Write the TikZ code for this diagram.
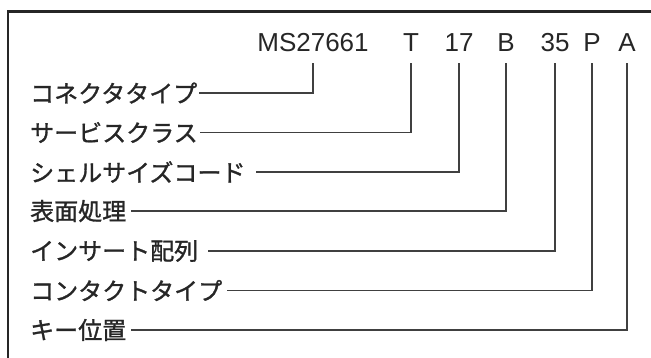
\documentclass[tikz,border=0pt]{standalone}
\usepackage{fontspec}
\setmainfont{Liberation Sans}
\newfontfamily\jpfont[FakeBold=1.2]{Noto Sans CJK JP}
\tikzset{
  code/.style={font=\fontsize{26}{30}\selectfont, anchor=base,
    inner xsep=0pt, inner ysep=11pt, text=black!85},
  caption/.style={font=\jpfont\fontsize{24}{28}\selectfont, anchor=west,
    inner sep=2pt, text=black!85},
  leader/.style={draw=black!75, line width=1.3pt},
}
\begin{document}
\begin{tikzpicture}[x=1pt,y=-1pt]
   \useasboundingbox (0,0) rectangle (651,358);
   \draw[black!85,line width=2.2pt] (8,358) |- (651,11.5);

   \node[code] (ms) at (313,52) {MS27661};
   \node[code] (t) at (411,52) {T};
   \node[code] (n17) at (459,52) {17};
   \node[code] (b) at (506,52) {B};
   \node[code] (n35) at (555,52) {35};
   \node[code] (p) at (592,52) {P};
   \node[code] (a) at (627,52) {A};

   \node[caption] (conn) at (28,93) {コネクタタイプ};
   \node[caption] (serv) at (28,132.5) {サービスクラス};
   \node[caption] (shell) at (28,172) {シェルサイズコード};
   \node[caption] (surf) at (28,211) {表面処理};
   \node[caption] (ins) at (28,251) {インサート配列};
   \node[caption] (cont) at (28,290.5) {コンタクトタイプ};
   \node[caption] (key) at (28,330) {キー位置};

   \draw[leader] (ms.south) |- (conn.east);
   \draw[leader] (t.south) |- (serv.east);
   \draw[leader] (n17.south) |- ([xshift=8pt]shell.east);
   \draw[leader] (b.south) |- ([xshift=3pt]surf.east);
   \draw[leader] (n35.south) |- ([xshift=8pt]ins.east);
   \draw[leader] (p.south) |- ([xshift=3pt]cont.east);
   \draw[leader] (a.south) |- ([xshift=3pt]key.east);
\end{tikzpicture}
\end{document}
